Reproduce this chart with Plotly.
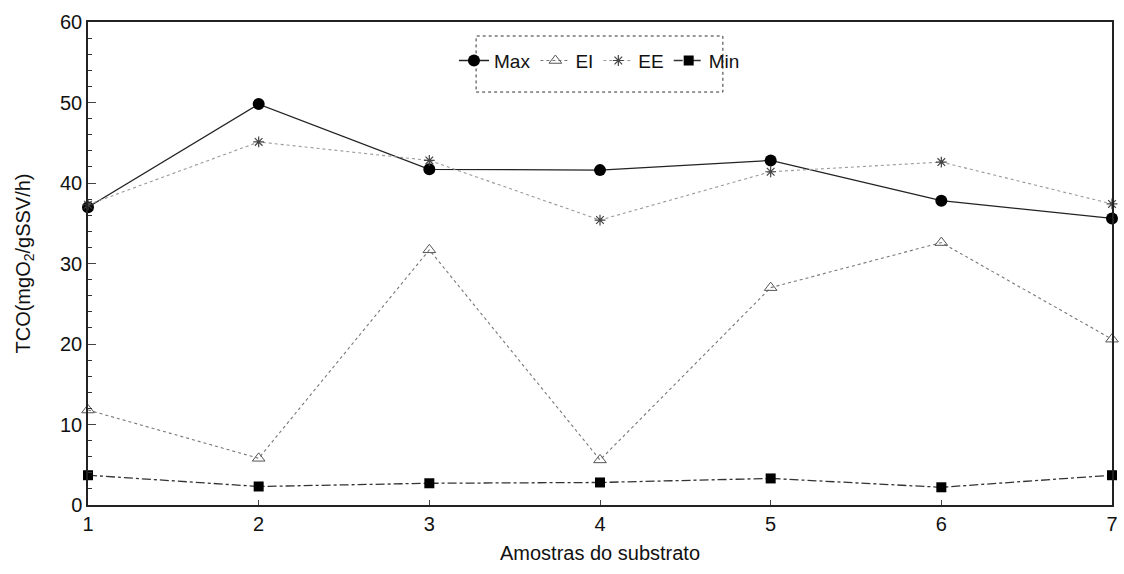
import plotly.graph_objects as go

# Substrate samples and oxygen consumption rates per series
amostras = [1, 2, 3, 4, 5, 6, 7]
tco_max = [37.0, 49.8, 41.7, 41.6, 42.8, 37.8, 35.6]
tco_ei = [11.8, 5.8, 31.7, 5.6, 27.0, 32.6, 20.6]
tco_ee = [37.3, 45.1, 42.8, 35.4, 41.4, 42.6, 37.4]
tco_min = [3.7, 2.3, 2.7, 2.8, 3.3, 2.2, 3.7]

y_ticks = [0, 10, 20, 30, 40, 50, 60]

fig = go.Figure()

fig.add_trace(go.Scatter(
    x=amostras, y=tco_max, name="Max", mode="lines+markers",
    line=dict(color="#222222", width=1.3),
    marker=dict(symbol="circle", size=12, color="#000000"),
    cliponaxis=False,
))
fig.add_trace(go.Scatter(
    x=amostras, y=tco_ei, name="EI", mode="lines+markers",
    line=dict(color="#777777", width=1.1, dash="dot"),
    marker=dict(symbol="triangle-up-open", size=11, color="#555555",
                line=dict(width=1)),
    cliponaxis=False,
))
fig.add_trace(go.Scatter(
    x=amostras, y=tco_ee, name="EE", mode="lines+markers",
    line=dict(color="#999999", width=1.1, dash="dot"),
    marker=dict(symbol="asterisk-open", size=9, color="#444444",
                line=dict(width=1.2, color="#444444")),
    cliponaxis=False,
))
fig.add_trace(go.Scatter(
    x=amostras, y=tco_min, name="Min", mode="lines+markers",
    line=dict(color="#333333", width=1.3, dash="dashdot"),
    marker=dict(symbol="square", size=10, color="#000000"),
    cliponaxis=False,
))

font_family = "Liberation Sans, Arial, sans-serif"

# Legend frame drawn as a paper-anchored rectangle
fig.add_shape(
    type="rect", xref="paper", yref="paper",
    x0=0.379, x1=0.620, y0=0.855, y1=0.971,
    line=dict(color="#333333", width=1, dash="dot"),
    fillcolor="white", layer="above",
)

fig.update_layout(
    width=1124, height=574,
    margin=dict(l=88, r=6, t=22, b=69),
    paper_bgcolor="white", plot_bgcolor="white",
    font=dict(family=font_family, size=20, color="#111111"),
    showlegend=True,
    legend=dict(
        orientation="h", x=0.4995, xanchor="center", y=0.92, yanchor="middle",
        borderwidth=0, bgcolor="rgba(0,0,0,0)",
        font=dict(size=19), itemwidth=30, tracegroupgap=0,
    ),
    xaxis=dict(
        range=[1, 7], tickvals=amostras, ticks="inside", ticklen=5,
        showgrid=False, zeroline=False, showline=True, linecolor="#222222",
        linewidth=1.5, mirror=True,
        title=dict(text="Amostras do substrato", font=dict(size=20), standoff=12),
        tickfont=dict(size=20),
    ),
    yaxis=dict(
        range=[0, 60], tickvals=y_ticks, ticks="inside", ticklen=8,
        minor=dict(ticks="inside", ticklen=4, dtick=2, tickcolor="#333333"),
        showgrid=False, zeroline=False, showline=True, linecolor="#222222",
        linewidth=1.5, mirror=True,
        title=dict(text="TCO(mgO<sub>2</sub>/gSSV/h)", font=dict(size=20), standoff=24),
        tickfont=dict(size=20),
    ),
)

fig.write_html("out.html")
